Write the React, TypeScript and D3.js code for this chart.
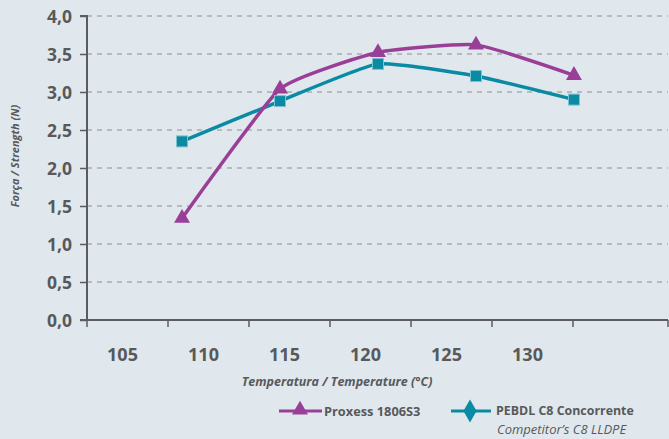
import { useEffect, useRef } from 'react';
import * as d3 from 'd3';

const tempLabels = ['105', '110', '115', '120', '125', '130'];
const seriesTemps = ['110', '115', '120', '125', '130'];
const proxessValues = [1.34, 3.04, 3.52, 3.62, 3.22];
const competitorValues = [2.35, 2.88, 3.37, 3.21, 2.9];
const yTicks = [0, 0.5, 1, 1.5, 2, 2.5, 3, 3.5, 4];

const PURPLE = '#9a3f97';
const TEAL = '#0a8aa3';
const AXIS = '#5a5c60';
const TEXT = '#58595b';

const App = () => {
  const ref = useRef<SVGSVGElement | null>(null);

  useEffect(() => {
    const svg = d3.select(ref.current);
    svg.selectAll('*').remove();

    const width = 669;
    const height = 439;
    const left = 87;
    const right = 668;
    const top = 16;
    const bottom = 320;

    svg.append('rect').attr('width', width).attr('height', height).attr('fill', '#e1e8ed');

    const yScale = d3.scaleLinear().domain([0, 4]).range([bottom, top]);
    const xBand = d3.scaleBand().domain(tempLabels).range([left, 573]);
    const xPoint = d3.scalePoint().domain(seriesTemps).range([left, right + 1]).padding(0.97);

    // gridlines
    svg.append('g')
      .selectAll('line')
      .data(yTicks.filter(d => d > 0))
      .join('line')
      .attr('x1', left)
      .attr('x2', right)
      .attr('y1', d => yScale(d))
      .attr('y2', d => yScale(d))
      .attr('stroke', '#a9acae')
      .attr('stroke-width', 1.4)
      .attr('stroke-dasharray', '5,5');

    // y axis
    const yAxis = d3.axisLeft(yScale)
      .tickValues(yTicks)
      .tickSize(7)
      .tickFormat(d => d3.format('.1f')(d as number).replace('.', ','));
    const gy = svg.append('g').attr('transform', `translate(${left},0)`).call(yAxis);
    gy.select('.domain').attr('stroke', AXIS).attr('stroke-width', 2).attr('d', `M-7,${top}H0V${bottom}`);
    gy.selectAll('.tick line').attr('stroke', AXIS).attr('stroke-width', 1.5);
    gy.selectAll('.tick text')
      .attr('x', -15)
      .attr('dy', '0.36em')
      .attr('fill', TEXT)
      .style('font-family', 'Open Sans, sans-serif')
      .style('font-weight', '700')
      .style('font-size', '17.5px');

    // x axis
    const gx = svg.append('g').attr('transform', `translate(0,${bottom})`);
    gx.append('line')
      .attr('x1', left - 7).attr('x2', right)
      .attr('stroke', AXIS).attr('stroke-width', 2);
    const tickPos = [...tempLabels.map(d => xBand(d) as number), 573, right];
    gx.selectAll('line.t')
      .data(tickPos)
      .join('line')
      .attr('class', 't')
      .attr('x1', d => d).attr('x2', d => d)
      .attr('y1', 0).attr('y2', 7)
      .attr('stroke', AXIS).attr('stroke-width', 1.5);
    gx.selectAll('text')
      .data(tempLabels)
      .join('text')
      .attr('x', d => (xBand(d) as number) + xBand.bandwidth() / 2 - 5)
      .attr('y', 41)
      .attr('text-anchor', 'middle')
      .attr('fill', TEXT)
      .style('font-family', 'Open Sans, sans-serif')
      .style('font-weight', '700')
      .style('font-size', '18px')
      .text(d => d);

    // axis titles
    svg.append('text')
      .attr('x', 337).attr('y', 386)
      .attr('text-anchor', 'middle')
      .attr('fill', TEXT)
      .style('font-family', 'Open Sans, sans-serif')
      .style('font-weight', '700')
      .style('font-style', 'italic')
      .style('font-size', '12.5px')
      .text('Temperatura / Temperature (°C)');
    svg.append('text')
      .attr('transform', 'translate(19,156) rotate(-90)')
      .attr('text-anchor', 'middle')
      .attr('fill', TEXT)
      .style('font-family', 'Open Sans, sans-serif')
      .style('font-weight', '700')
      .style('font-style', 'italic')
      .style('font-size', '11px')
      .text('Força / Strength (N)');

    const line = d3.line<number>()
      .x((_, i) => xPoint(seriesTemps[i]) as number)
      .y(d => yScale(d))
      .curve(d3.curveCardinal.tension(0.55));

    svg.append('path').datum(competitorValues)
      .attr('fill', 'none').attr('stroke', TEAL).attr('stroke-width', 3.5).attr('d', line);
    svg.append('path').datum(proxessValues)
      .attr('fill', 'none').attr('stroke', PURPLE).attr('stroke-width', 3.5).attr('d', line);

    const tri = d3.symbol().type(d3.symbolTriangle).size(110);
    svg.append('g').selectAll('path')
      .data(proxessValues)
      .join('path')
      .attr('transform', (d, i) => `translate(${xPoint(seriesTemps[i])},${yScale(d)})`)
      .attr('d', tri)
      .attr('fill', PURPLE);

    svg.append('g').selectAll('rect')
      .data(competitorValues)
      .join('rect')
      .attr('x', (_, i) => (xPoint(seriesTemps[i]) as number) - 5.5)
      .attr('y', d => yScale(d) - 5.5)
      .attr('width', 11).attr('height', 11)
      .attr('fill', TEAL)
      .attr('stroke', '#7fc2d0').attr('stroke-width', 1);

    // legend
    const lg = svg.append('g');
    lg.append('line').attr('x1', 279).attr('x2', 322).attr('y1', 411).attr('y2', 411)
      .attr('stroke', PURPLE).attr('stroke-width', 3);
    lg.append('path').attr('transform', 'translate(300,410)').attr('d', tri).attr('fill', PURPLE);
    lg.append('text').attr('x', 324).attr('y', 415.5)
      .attr('fill', TEXT)
      .style('font-family', 'Open Sans, sans-serif').style('font-weight', '700').style('font-size', '12.8px')
      .text('Proxess 1806S3');
    lg.append('line').attr('x1', 451).attr('x2', 491).attr('y1', 411).attr('y2', 411)
      .attr('stroke', TEAL).attr('stroke-width', 3);
    lg.append('path').attr('transform', 'translate(470,411)')
      .attr('d', d3.symbol().type(d3.symbolDiamond).size(150)).attr('fill', TEAL);
    lg.append('text').attr('x', 496).attr('y', 415)
      .attr('fill', TEXT)
      .style('font-family', 'Open Sans, sans-serif').style('font-weight', '700').style('font-size', '12.4px')
      .text('PEBDL C8 Concorrente');
    lg.append('text').attr('x', 497).attr('y', 434)
      .attr('fill', TEXT)
      .style('font-family', 'Open Sans, sans-serif').style('font-style', 'italic').style('font-size', '13px')
      .text('Competitor’s C8 LLDPE');
  }, []);

  return (
    <svg ref={ref} width={669} height={439}
      style={{ position: 'absolute', top: 0, left: 0, display: 'block' }} />
  );
};

export default App;
